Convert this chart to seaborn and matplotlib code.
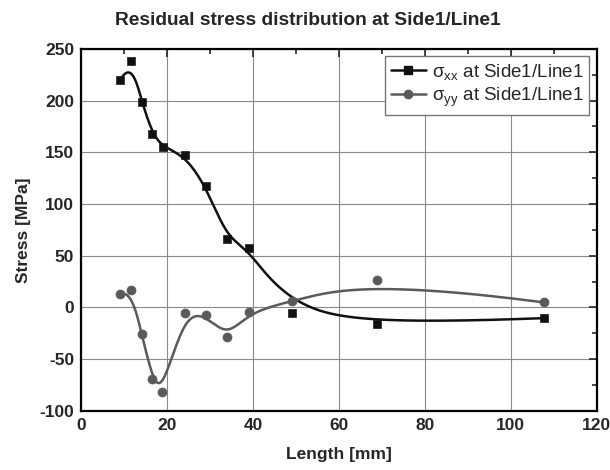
import numpy as np
import matplotlib
matplotlib.use("Agg")
import matplotlib.pyplot as plt
import seaborn as sns
from matplotlib.lines import Line2D
from matplotlib.ticker import MultipleLocator

# ---- data ----
length_xx = [9.1, 11.6, 14.1, 16.6, 19.0, 24.1, 29.1, 34.0, 39.1, 49.1, 68.9, 107.7]
sigma_xx = [220, 238, 199, 168, 155, 147, 117, 66, 57, -5.5, -16.5, -10.4]
length_yy = [9.1, 11.6, 14.1, 16.6, 18.9, 24.1, 29.1, 34.0, 39.1, 49.1, 68.9, 107.7]
sigma_yy = [13, 16.7, -25.5, -69, -82, -5.5, -7.8, -29, -4.6, 6.4, 26, 4.8]
label_xx = r"σ$_{\mathrm{xx}}$ at Side1/Line1"
label_yy = r"σ$_{\mathrm{yy}}$ at Side1/Line1"
x_ticks = [0, 20, 40, 60, 80, 100, 120]
y_ticks = [-100, -50, 0, 50, 100, 150, 200, 250]


def bspline(xs, ys, n=400, k=3):
    """Clamped uniform B-spline curve using the data points as control points."""
    P = np.column_stack([xs, ys]).astype(float)
    m = len(P)
    inner = np.linspace(0, 1, m - k + 1)
    t = np.concatenate([np.zeros(k), inner, np.ones(k)])
    u = np.linspace(0, 1, n)
    u[-1] = 1 - 1e-12
    N = np.zeros((n, len(t) - 1))
    for i in range(len(t) - 1):
        N[:, i] = ((u >= t[i]) & (u < t[i + 1])).astype(float)
    for d in range(1, k + 1):
        Nn = np.zeros((n, len(t) - 1 - d))
        for i in range(len(t) - 1 - d):
            a = 0.0
            den1 = t[i + d] - t[i]
            den2 = t[i + d + 1] - t[i + 1]
            if den1 > 0:
                a = a + (u - t[i]) / den1 * N[:, i]
            if den2 > 0:
                a = a + (t[i + d + 1] - u) / den2 * N[:, i + 1]
            Nn[:, i] = a
        N = Nn
    C = N[:, :m] @ P
    return C[:, 0], C[:, 1]


sns.set_style("white")
plt.rcParams["font.family"] = ["Liberation Sans", "DejaVu Sans"]
plt.rcParams["mathtext.fontset"] = "custom"
plt.rcParams["mathtext.rm"] = "Liberation Sans"
plt.rcParams["mathtext.it"] = "Liberation Sans:italic"
plt.rcParams["axes.unicode_minus"] = False

fig = plt.figure(figsize=(6.1, 4.7), dpi=100)
ax = fig.add_axes([0.133, 0.126, 0.845, 0.770])

c_xx = "#111111"
c_yy = "#5a5a5a"

cx, cy = bspline(length_xx, sigma_xx)
sns.lineplot(x=cx, y=cy, sort=False, estimator=None, ax=ax, color=c_xx, lw=1.8)
cx2, cy2 = bspline(length_yy, sigma_yy)
sns.lineplot(x=cx2, y=cy2, sort=False, estimator=None, ax=ax, color=c_yy, lw=1.8)

sns.scatterplot(x=length_xx, y=sigma_xx, ax=ax, marker="s", s=32, color=c_xx,
                edgecolor=c_xx, zorder=5)
sns.scatterplot(x=length_yy, y=sigma_yy, ax=ax, marker="o", s=42, color=c_yy,
                edgecolor=c_yy, zorder=5)

ax.set_xlim(0, 120)
ax.set_ylim(-100, 250)
ax.set_xticks(x_ticks)
ax.set_yticks(y_ticks)
ax.xaxis.set_minor_locator(MultipleLocator(10))
ax.yaxis.set_minor_locator(MultipleLocator(25))
ax.grid(True, which="major", color="#8a8a8a", lw=0.8)
ax.set_axisbelow(True)
ax.tick_params(which="both", direction="in", top=True, right=True, width=1.2,
               labelsize=12.5)
ax.tick_params(which="major", length=6, pad=5)
ax.tick_params(which="minor", length=3.5)
for lab in ax.get_xticklabels() + ax.get_yticklabels():
    lab.set_fontweight("bold")
for s in ax.spines.values():
    s.set_linewidth(1.6)
    s.set_color("black")

ax.set_xlabel("Length [mm]", fontsize=12.5, fontweight="bold", labelpad=10)
ax.set_ylabel("Stress [MPa]", fontsize=12.5, fontweight="bold", labelpad=6)
fig.suptitle("Residual stress distribution at Side1/Line1", fontsize=13.8,
             fontweight="bold", x=0.505, y=0.975, va="top")

handles = [
    Line2D([], [], color=c_xx, lw=1.8, marker="s", markersize=5.5),
    Line2D([], [], color=c_yy, lw=1.8, marker="o", markersize=6),
]
leg = ax.legend(handles, [label_xx, label_yy], loc="upper right",
                fontsize=13.5, frameon=True, fancybox=False, borderaxespad=0.4,
                handlelength=1.9, handletextpad=0.3, borderpad=0.3,
                labelspacing=0.2)
leg.get_frame().set_edgecolor("#777777")
leg.get_frame().set_linewidth(1.0)
leg.get_frame().set_alpha(1)

fig.savefig("out.png", dpi=100)
